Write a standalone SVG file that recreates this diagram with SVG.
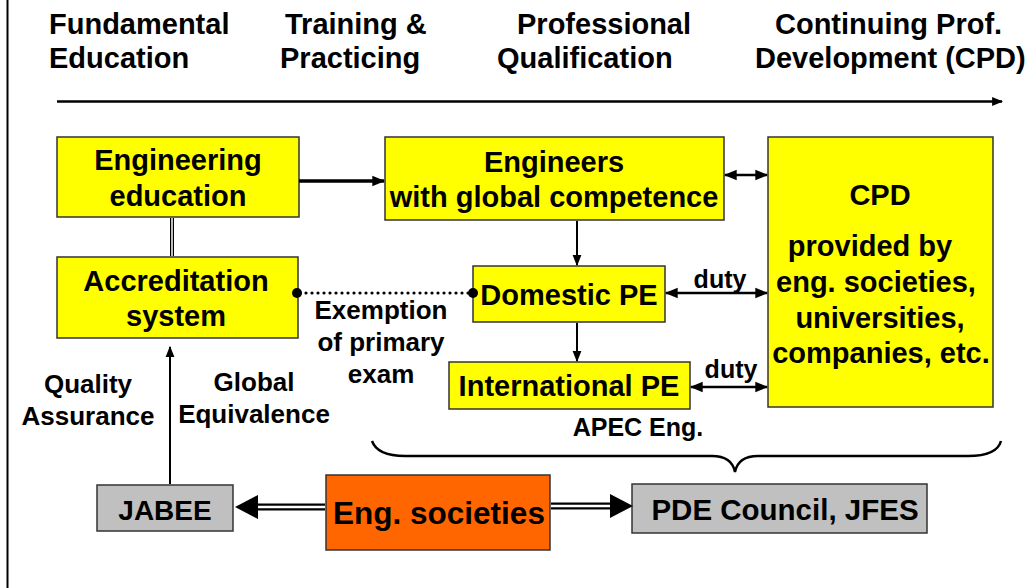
<svg xmlns="http://www.w3.org/2000/svg" width="1032" height="588" viewBox="0 0 1032 588">
<defs>
<style>
text{font-family:"Liberation Sans",Arial,sans-serif;font-weight:bold;fill:#000}
.h{font-size:29px}
.t{font-size:29px;text-anchor:middle}
.s{font-size:26px;text-anchor:middle}
.d{font-size:25px;text-anchor:middle}
.y{fill:#ffff00;stroke:#333;stroke-width:1.5}
.g{fill:#c0c0c0;stroke:#333;stroke-width:1.5}
.o{fill:#ff6600;stroke:#333;stroke-width:1.5}
.c{stroke:#000;fill:none;stroke-width:2.5}
</style>
<marker id="ah" viewBox="0 0 10 10" refX="9" refY="5" markerWidth="11" markerHeight="11" markerUnits="userSpaceOnUse" orient="auto-start-reverse">
<path d="M0,1 L10,5 L0,9 Z" fill="#000"/>
</marker>
<marker id="ahb" viewBox="0 0 10 10" refX="9" refY="5" markerWidth="13" markerHeight="13" markerUnits="userSpaceOnUse" orient="auto-start-reverse">
<path d="M0,1 L10,5 L0,9 Z" fill="#000"/>
</marker>
</defs>
<rect width="1032" height="588" fill="#fff"/>
<line x1="7.5" y1="0" x2="7.5" y2="588" stroke="#000" stroke-width="2"/>

<g id="headers">
<text class="h" x="49" y="34">Fundamental</text>
<text class="h" x="49" y="68">Education</text>
<text class="h" x="285" y="34">Training &amp;</text>
<text class="h" x="280" y="68">Practicing</text>
<text class="h" x="517" y="34">Professional</text>
<text class="h" x="497" y="68">Qualification</text>
<text class="h" x="775" y="34">Continuing Prof.</text>
<text class="h" x="755" y="68">Development (CPD)</text>
</g>

<g id="engineering-education">
<rect class="y" x="57" y="137" width="242" height="80"/>
<text class="t" x="178" y="170">Engineering</text>
<text class="t" x="178" y="206">education</text>
</g>
<g id="engineers">
<rect class="y" x="385" y="137" width="339" height="83"/>
<text class="t" x="554" y="172">Engineers</text>
<text class="t" x="554" y="207">with global competence</text>
</g>
<g id="cpd">
<rect class="y" x="768" y="137" width="225" height="270"/>
<text class="t" x="880" y="205">CPD</text>
<text class="t" x="870" y="256">provided by</text>
<text class="t" x="876" y="292">eng. societies,</text>
<text class="t" x="880" y="328">universities,</text>
<text class="t" x="881" y="363">companies, etc.</text>
</g>
<g id="accreditation">
<rect class="y" x="57" y="257" width="241" height="81"/>
<text class="t" x="176" y="291">Accreditation</text>
<text class="t" x="176" y="326">system</text>
</g>
<g id="domestic-pe">
<rect class="y" x="473" y="266" width="192" height="56"/>
<text class="t" x="569" y="305">Domestic PE</text>
</g>
<g id="international-pe">
<rect class="y" x="449" y="362" width="241" height="47"/>
<text class="t" x="569" y="396">International PE</text>
</g>
<g id="jabee">
<rect class="g" x="97" y="485" width="136" height="46"/>
<text class="t" x="165" y="520" style="font-size:28px">JABEE</text>
</g>
<g id="eng-societies">
<rect class="o" x="326" y="475" width="224" height="75"/>
<text class="t" x="439" y="524" style="font-size:31.5px">Eng. societies</text>
</g>
<g id="pde-council">
<rect class="g" x="632" y="484" width="295" height="49"/>
<text class="t" x="785" y="520" style="font-size:29.5px">PDE Council, JFES</text>
</g>

<g id="connectors">
<line class="c" x1="57" y1="101.5" x2="1002" y2="101.5" marker-end="url(#ah)"/>
<line class="c" x1="299" y1="181" x2="384" y2="181" style="stroke-width:3.5" marker-end="url(#ahb)"/>
<line class="c" x1="725" y1="175" x2="767" y2="175" marker-start="url(#ahb)" marker-end="url(#ahb)"/>
<line x1="172" y1="218" x2="172" y2="256" stroke="#000" stroke-width="4"/>
<line x1="172" y1="218" x2="172" y2="256" stroke="#fff" stroke-width="1.5"/>
<line x1="577" y1="221" x2="577" y2="265" stroke="#000" stroke-width="2" marker-end="url(#ah)"/>
<line x1="577" y1="323" x2="577" y2="361" stroke="#000" stroke-width="2" marker-end="url(#ah)"/>
<line x1="300" y1="293" x2="471" y2="293" stroke="#000" stroke-width="3.2" stroke-dasharray="0,6" stroke-linecap="round"/>
<circle cx="297" cy="293" r="5" fill="#000"/>
<circle cx="473" cy="293" r="5" fill="#000"/>
<line class="c" x1="666" y1="293" x2="767" y2="293" marker-start="url(#ahb)" marker-end="url(#ahb)"/>
<line class="c" x1="691" y1="387" x2="767" y2="387" marker-start="url(#ahb)" marker-end="url(#ahb)"/>
<line x1="170" y1="484" x2="170" y2="347" stroke="#000" stroke-width="2" marker-end="url(#ah)"/>
<path d="M372,441 C376,452 390,456 405,456 L712,456 C726,456 733,462 735,472 C737,462 744,456 758,456 L968,456 C985,456 998,452 1001,441" fill="none" stroke="#000" stroke-width="2.5"/>
<line x1="325" y1="507" x2="256" y2="507" stroke="#000" stroke-width="7"/>
<line x1="325" y1="507" x2="256" y2="507" stroke="#fff" stroke-width="2.5"/>
<path d="M235,507 L258,495 L258,519 Z" fill="#000"/>
<line x1="551" y1="506" x2="612" y2="506" stroke="#000" stroke-width="7"/>
<line x1="551" y1="506" x2="612" y2="506" stroke="#fff" stroke-width="2.5"/>
<path d="M633,506 L610,494 L610,518 Z" fill="#000"/>
</g>

<g id="labels">
<text class="s" x="381" y="319">Exemption</text>
<text class="s" x="381" y="351">of primary</text>
<text class="s" x="381" y="383">exam</text>
<text class="d" x="720" y="288">duty</text>
<text class="d" x="731" y="378">duty</text>
<text class="s" x="88" y="393">Quality</text>
<text class="s" x="88" y="425">Assurance</text>
<text class="s" x="254" y="391">Global</text>
<text class="s" x="254" y="423">Equivalence</text>
<text class="d" x="638" y="436">APEC Eng.</text>
</g>
</svg>
